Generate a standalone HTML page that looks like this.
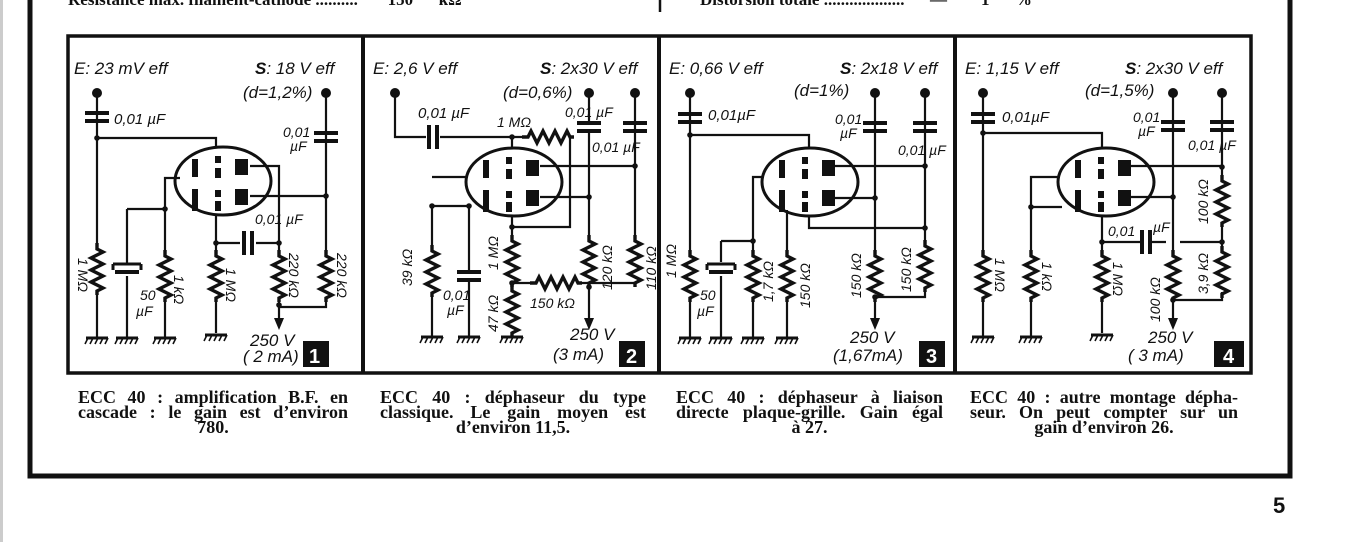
<!DOCTYPE html>
<html><head><meta charset="utf-8">
<style>
html,body{margin:0;padding:0;background:#fff;}
body{width:1345px;height:542px;position:relative;overflow:hidden;}
.cap{position:absolute;font-family:"Liberation Serif",serif;font-weight:bold;font-size:18px;line-height:15px;color:#111;}
.cap div{text-align:justify;text-align-last:justify;white-space:nowrap;}
.cap div.l{text-align:center;text-align-last:center;}
.top{position:absolute;font-family:"Liberation Serif",serif;font-weight:bold;font-size:17px;top:-10px;color:#111;white-space:pre;}
svg text{font-family:"Liberation Sans",sans-serif;font-style:italic;fill:#111;}
</style></head><body>
<div style="position:absolute;left:0;top:0;width:3px;height:542px;background:#ccc"></div>
<div class="top" style="left:68px">Résistance max. filament-cathode ..........       150      kΩ</div>
<div class="top" style="left:700px">Distorsion totale ...................      —        1      %</div>
<svg width="1345" height="542" style="position:absolute;left:0;top:0">
<defs>
<path id="r" d="M0,0 V6 L6,9 L-6,15 L6,21 L-6,27 L6,33 L-6,39 L6,45 L0,48 V52" fill="none" stroke="#111" stroke-width="3.4"/>
<path id="rh" d="M0,0 H6 L9,-6 L15,6 L21,-6 L27,6 L33,-6 L39,6 L45,-6 L48,0 H52" fill="none" stroke="#111" stroke-width="3.4"/>
<g id="g"><path d="M-11,0 H11" stroke="#111" stroke-width="3"/><path d="M-9,0 l-3,6 M-4,0 l-3,6 M1,0 l-3,6 M6,0 l-3,6 M11,0 l-3,6" stroke="#111" stroke-width="1.6"/></g>
<g id="c"><rect x="-12" y="-6" width="24" height="4" fill="#111"/><rect x="-12" y="2" width="24" height="4" fill="#111"/></g>
<g id="ch"><rect x="-6" y="-12" width="4" height="24" fill="#111"/><rect x="2" y="-12" width="4" height="24" fill="#111"/></g>
<g id="el"><path d="M-14,-4 H14 M-14,-4 v6 M14,-4 v6" stroke="#111" stroke-width="3" fill="none"/><rect x="-12" y="2" width="24" height="4" fill="#111"/></g>
<circle id="d" r="5" fill="#111"/>
<circle id="n" r="2.8" fill="#111"/>
<g id="t">
<ellipse rx="48" ry="34" fill="none" stroke="#111" stroke-width="3"/>
<rect x="-31" y="-22" width="6" height="18" fill="#111"/><rect x="-31" y="8" width="6" height="22" fill="#111"/>
<rect x="-8" y="-25" width="6" height="7" fill="#111"/><rect x="-8" y="-13" width="6" height="10" fill="#111"/>
<rect x="-8" y="9" width="6" height="7" fill="#111"/><rect x="-8" y="20" width="6" height="10" fill="#111"/>
<rect x="12" y="-22" width="13" height="16" fill="#111"/><rect x="12" y="8" width="13" height="16" fill="#111"/>
</g>
<path id="ar" d="M-5,0 L5,0 L0,12 Z" fill="#111"/>
</defs>

<path d="M30,0 V476 H1290 V0" fill="none" stroke="#111" stroke-width="5"/>
<line x1="660" y1="0" x2="660" y2="12" stroke="#111" stroke-width="2.5"/>
<rect x="68" y="36" width="1183" height="337" fill="none" stroke="#111" stroke-width="3.5"/>
<line x1="363" y1="36" x2="363" y2="373" stroke="#111" stroke-width="4"/>
<line x1="659" y1="36" x2="659" y2="373" stroke="#111" stroke-width="4"/>
<line x1="955" y1="36" x2="955" y2="373" stroke="#111" stroke-width="4"/>

<g stroke="#111" stroke-width="2.2" fill="none">
<path d="M97,93 V243 M97,295 V338 M97,138 H216 V148 M127,209 H165 M165,209 V178 H180 M165,209 V250 M165,302 V338 M127,209 V264 M127,276 V338 M216,215 V250 M216,302 V333 M216,243 H240 M256,243 H279 M250,166 H279 V250 M250,196 H326 M326,93 V250 M279,302 V320 M326,302 V307 H279"/>
<path d="M395,93 V137 H426 M440,137 H522 M574,137 H570 V227 H512 M512,137 V148 M512,217 V235 M512,287 V283 M512,335 V337 M432,206 V245 M432,177 H466 M432,206 H469 V272 M469,280 V337 M432,297 V337 M512,283 H530 M582,283 H635 M540,166 H635 M540,197 H589 M589,93 V122 M589,132 V235 M635,93 V235 M589,287 V320 M635,287 V283 M512,283 V285"/>
<path d="M690,93 V250 M690,302 V338 M690,135 H809 V148 M721,241 H753 M721,241 V262 M721,276 V338 M753,241 V250 M753,302 V338 M753,241 V177 H764 M787,210 V250 M787,302 V338 M809,217 V228 H925 M835,166 H925 M835,198 H875 M875,93 V250 M925,93 V240 M875,302 V320 M925,292 V297 H875"/>
<path d="M983,93 V250 M983,302 V337 M983,133 H1102 V148 M1031,207 V250 M1031,302 V337 M1031,207 H1062 M1031,207 V177 H1060 M1102,217 V250 M1102,302 V333 M1102,242 H1140 M1152,242 H1166 M1180,242 H1222 M1131,166 H1222 M1131,197 H1173 M1173,93 V250 M1222,93 V175 M1222,227 V250 M1173,302 V320 M1222,292 V300 H1173"/>
</g>

<use href="#t" x="223" y="181"/>
<use href="#t" x="514" y="182"/>
<use href="#t" x="810" y="182"/>
<use href="#t" x="1106" y="182"/>

<use href="#d" x="97" y="93"/><use href="#d" x="326" y="93"/>
<use href="#c" x="97" y="117"/><use href="#c" x="326" y="137"/>
<use href="#n" x="97" y="138"/><use href="#n" x="165" y="209"/><use href="#n" x="216" y="243"/><use href="#n" x="279" y="243"/><use href="#n" x="326" y="196"/><use href="#n" x="279" y="305"/>
<use href="#r" x="97" y="243"/><use href="#r" x="165" y="250"/><use href="#r" x="216" y="250"/><use href="#r" x="279" y="250"/><use href="#r" x="326" y="250"/>
<use href="#el" x="127" y="268"/>
<use href="#ch" x="248" y="243"/>
<use href="#g" x="97" y="338"/><use href="#g" x="127" y="338"/><use href="#g" x="165" y="338"/><use href="#g" x="216" y="335"/>
<use href="#ar" x="279" y="318"/>
<use href="#d" x="395" y="93"/><use href="#d" x="589" y="93"/><use href="#d" x="635" y="93"/>
<use href="#ch" x="433" y="137"/><use href="#c" x="589" y="127"/><use href="#c" x="635" y="127"/><use href="#c" x="469" y="276"/>
<use href="#rh" x="522" y="137"/><use href="#rh" x="530" y="283"/>
<use href="#n" x="512" y="137"/><use href="#n" x="512" y="227"/><use href="#n" x="432" y="206"/><use href="#n" x="469" y="206"/><use href="#n" x="512" y="283"/><use href="#n" x="589" y="197"/><use href="#n" x="635" y="166"/><use href="#n" x="589" y="287"/>
<use href="#r" x="432" y="245"/><use href="#r" x="512" y="235"/><use href="#r" x="512" y="285"/><use href="#r" x="589" y="235"/><use href="#r" x="635" y="235"/>
<use href="#g" x="432" y="337"/><use href="#g" x="469" y="337"/><use href="#g" x="512" y="337"/>
<use href="#ar" x="589" y="318"/>
<use href="#d" x="690" y="93"/><use href="#d" x="875" y="93"/><use href="#d" x="925" y="93"/>
<use href="#c" x="690" y="118"/><use href="#c" x="875" y="127"/><use href="#c" x="925" y="127"/>
<use href="#n" x="690" y="135"/><use href="#n" x="753" y="241"/><use href="#n" x="875" y="198"/><use href="#n" x="925" y="166"/><use href="#n" x="925" y="228"/><use href="#n" x="875" y="297"/>
<use href="#r" x="690" y="250"/><use href="#r" x="753" y="250"/><use href="#r" x="787" y="250"/><use href="#r" x="875" y="250"/><use href="#r" x="925" y="240"/>
<use href="#el" x="721" y="268"/>
<use href="#g" x="690" y="338"/><use href="#g" x="721" y="338"/><use href="#g" x="753" y="338"/><use href="#g" x="787" y="338"/>
<use href="#ar" x="875" y="318"/>
<use href="#d" x="983" y="93"/><use href="#d" x="1173" y="93"/><use href="#d" x="1222" y="93"/>
<use href="#c" x="983" y="118"/><use href="#c" x="1173" y="126"/><use href="#c" x="1222" y="126"/>
<use href="#ch" x="1146" y="242"/>
<use href="#n" x="983" y="133"/><use href="#n" x="1031" y="207"/><use href="#n" x="1102" y="242"/><use href="#n" x="1173" y="197"/><use href="#n" x="1222" y="167"/><use href="#n" x="1222" y="242"/><use href="#n" x="1173" y="300"/>
<use href="#r" x="983" y="250"/><use href="#r" x="1031" y="250"/><use href="#r" x="1102" y="250"/><use href="#r" x="1173" y="250"/><use href="#r" x="1222" y="175"/><use href="#r" x="1222" y="246"/>
<use href="#g" x="983" y="337"/><use href="#g" x="1031" y="337"/><use href="#g" x="1102" y="335"/>
<use href="#ar" x="1173" y="318"/>

<rect x="303" y="341" width="26" height="26" fill="#111"/>
<rect x="619" y="341" width="26" height="26" fill="#111"/>
<rect x="919" y="341" width="26" height="26" fill="#111"/>
<rect x="1214" y="341" width="30" height="26" fill="#111"/>
<g font-size="20" font-weight="bold">
<text x="309" y="363" style="fill:#fff;font-style:normal">1</text>
<text x="626" y="363" style="fill:#fff;font-style:normal">2</text>
<text x="926" y="363" style="fill:#fff;font-style:normal">3</text>
<text x="1223" y="363" style="fill:#fff;font-style:normal">4</text>
</g>

<g font-size="17">
<text x="74" y="74">E: 23 mV eff</text>
<text x="255" y="74"><tspan font-weight="bold">S</tspan>: 18 V eff</text>
<text x="243" y="98">(d=1,2%)</text>
<text x="373" y="74">E: 2,6 V eff</text>
<text x="540" y="74"><tspan font-weight="bold">S</tspan>: 2x30 V eff</text>
<text x="503" y="98">(d=0,6%)</text>
<text x="669" y="74">E: 0,66 V eff</text>
<text x="840" y="74"><tspan font-weight="bold">S</tspan>: 2x18 V eff</text>
<text x="794" y="96">(d=1%)</text>
<text x="965" y="74">E: 1,15 V eff</text>
<text x="1125" y="74"><tspan font-weight="bold">S</tspan>: 2x30 V eff</text>
<text x="1085" y="96">(d=1,5%)</text>
<text x="250" y="346">250 V</text>
<text x="243" y="362">( 2 mA)</text>
<text x="570" y="340">250 V</text>
<text x="553" y="360">(3 mA)</text>
<text x="850" y="343">250 V</text>
<text x="833" y="361">(1,67mA)</text>
<text x="1148" y="343">250 V</text>
<text x="1128" y="361">( 3 mA)</text>
</g>
<g font-size="15">
<text x="114" y="124">0,01 µF</text>
<text x="283" y="137" font-size="14">0,01</text><text x="290" y="151" font-size="14">µF</text>
<text x="255" y="224" font-size="14">0,01 µF</text>
<text x="140" y="300" font-size="14">50</text><text x="136" y="316" font-size="14">µF</text>
<text x="418" y="118">0,01 µF</text>
<text x="497" y="127" font-size="14">1 MΩ</text>
<text x="565" y="117" font-size="14">0,01 µF</text>
<text x="592" y="152" font-size="14">0,01 µF</text>
<text x="443" y="300" font-size="14">0,01</text><text x="447" y="315" font-size="14">µF</text>
<text x="530" y="308" font-size="14">150 kΩ</text>
<text x="708" y="120">0,01µF</text>
<text x="835" y="124" font-size="14">0,01</text><text x="840" y="138" font-size="14">µF</text>
<text x="898" y="155" font-size="14">0,01 µF</text>
<text x="700" y="300" font-size="14">50</text><text x="697" y="316" font-size="14">µF</text>
<text x="1002" y="122">0,01µF</text>
<text x="1133" y="122" font-size="14">0,01</text><text x="1138" y="136" font-size="14">µF</text>
<text x="1188" y="150" font-size="14">0,01 µF</text>
<text x="1108" y="236" font-size="14">0,01</text><text x="1153" y="232" font-size="14">µF</text>
</g>
<g font-size="14">
<text transform="translate(78,258) rotate(90)">1 MΩ</text>
<text transform="translate(174,275) rotate(90)">1 kΩ</text>
<text transform="translate(226,268) rotate(90)">1 MΩ</text>
<text transform="translate(289,253) rotate(90)">220 kΩ</text>
<text transform="translate(337,253) rotate(90)">220 kΩ</text>
<text transform="translate(412,286) rotate(-90)">39 kΩ</text>
<text transform="translate(498,270) rotate(-90)">1 MΩ</text>
<text transform="translate(498,332) rotate(-90)">47 kΩ</text>
<text transform="translate(612,290) rotate(-90)">120 kΩ</text>
<text transform="translate(656,290) rotate(-90)">110 kΩ</text>
<text transform="translate(676,278) rotate(-90)">1 MΩ</text>
<text transform="translate(773,302) rotate(-90)">1,7 kΩ</text>
<text transform="translate(810,308) rotate(-90)">150 kΩ</text>
<text transform="translate(861,298) rotate(-90)">150 kΩ</text>
<text transform="translate(911,292) rotate(-90)">150 kΩ</text>
<text transform="translate(995,258) rotate(90)">1 MΩ</text>
<text transform="translate(1042,262) rotate(90)">1 kΩ</text>
<text transform="translate(1113,262) rotate(90)">1 MΩ</text>
<text transform="translate(1160,322) rotate(-90)">100 kΩ</text>
<text transform="translate(1208,224) rotate(-90)">100 kΩ</text>
<text transform="translate(1208,294) rotate(-90)">3,9 kΩ</text>
</g>
<text x="1273" y="513" font-size="22" font-weight="bold" style="font-style:normal">5</text>
</svg>

<div class="cap" style="left:78px;top:390px;width:270px"><div>ECC 40 : amplification B.F. en</div><div>cascade : le gain est d’environ</div><div class="l">780.</div></div>
<div class="cap" style="left:380px;top:390px;width:266px"><div>ECC 40 : déphaseur du type</div><div>classique. Le gain moyen est</div><div class="l">d’environ 11,5.</div></div>
<div class="cap" style="left:676px;top:390px;width:267px"><div>ECC 40 : déphaseur à liaison</div><div>directe plaque-grille. Gain égal</div><div class="l">à 27.</div></div>
<div class="cap" style="left:970px;top:390px;width:268px"><div>ECC 40 : autre montage dépha-</div><div>seur. On peut compter sur un</div><div class="l">gain d’environ 26.</div></div>
</body></html>
